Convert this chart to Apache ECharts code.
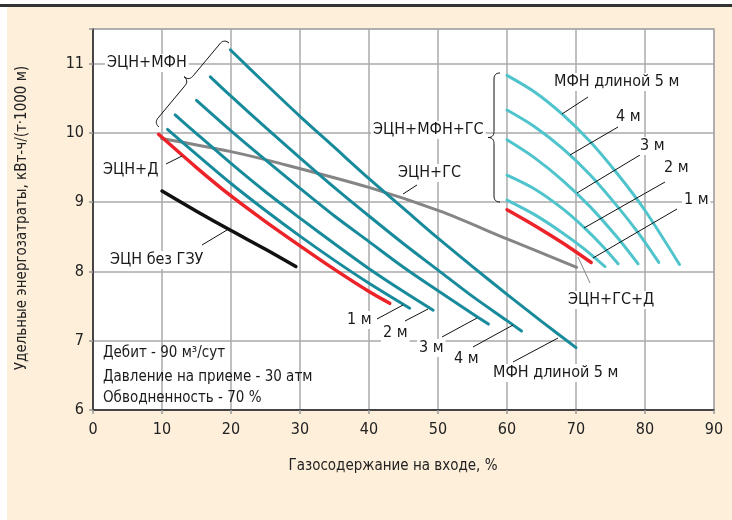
<!DOCTYPE html>
<html><head><meta charset="utf-8">
<script src="https://cdn.jsdelivr.net/npm/echarts@6/dist/echarts.min.js"></script>
<style>html,body{margin:0;padding:0;background:#fff}#c{width:732px;height:520px}</style>
</head><body><div id="c"></div>
<script>
// ---- data ----
const xTicks = [0,10,20,30,40,50,60,70,80,90];
const yTicks = [6,7,8,9,10,11];
// ЭЦН без ГЗУ
const esnNoGzu = [[10,9.16],[15,8.87],[20,8.59],[25,8.32],[29.4,8.07]];
// ЭЦН+Д
const esnD = [[9.5,9.98],[15,9.50],[20,9.09],[25,8.72],[30,8.37],[35,8.03],[40,7.71],[43,7.54]];
// ЭЦН+МФН, 1..5 м
const mfn1 = [[10.8,10.05],[15,9.69],[20,9.27],[25,8.88],[30,8.51],[35,8.16],[40,7.83],[45.9,7.47]];
const mfn2 = [[11.9,10.26],[15,9.99],[20,9.56],[25,9.15],[30,8.77],[35,8.40],[40,8.04],[45,7.71],[49.3,7.44]];
const mfn3 = [[15.0,10.47],[20,10.03],[25,9.61],[30,9.20],[35,8.80],[40,8.43],[45,8.06],[50,7.72],[55,7.39],[57.3,7.24]];
const mfn4 = [[17.0,10.81],[20,10.53],[25,10.08],[30,9.64],[35,9.21],[40,8.80],[45,8.40],[50,8.02],[55,7.64],[60,7.29],[62.1,7.14]];
const mfn5 = [[19.9,11.20],[25,10.71],[30,10.24],[35,9.79],[40,9.34],[45,8.91],[50,8.48],[55,8.07],[60,7.67],[65,7.28],[70,6.90]];
// ЭЦН+ГС
const esnGs = [[9.95,9.92],[20,9.73],[27.1,9.56],[40.1,9.21],[50.3,8.87],[60,8.47],[70.1,8.06]];
// ЭЦН+ГС+Д
const esnGsD = [[60,8.89],[63,8.72],[66,8.54],[69,8.35],[72.2,8.13]];
// ЭЦН+МФН+ГС, 1..5 м
const gs1 = [[60,9.03],[64,8.82],[68,8.56],[71,8.34],[74.2,8.07]];
const gs2 = [[60,9.39],[64,9.19],[68,8.91],[71,8.65],[74,8.35],[76.1,8.11]];
const gs3 = [[60,9.90],[64,9.64],[68,9.32],[72,8.94],[76,8.49],[79,8.11]];
const gs4 = [[60,10.33],[64,10.09],[68,9.78],[72,9.40],[76,8.94],[79,8.56],[82,8.13]];
const gs5 = [[60,10.83],[64,10.59],[68,10.27],[72,9.88],[76,9.41],[80,8.88],[85,8.10]];

// ---- style ----
const FONT = "'Liberation Sans Narrow','Arial Narrow','DejaVu Sans Condensed',sans-serif";
const TEAL = '#178b9b', LTEAL = '#4fc4cc', RED = '#ec2429', GRAY = '#858585', BLACK = '#111';

function line(name, data, color, w) {
  return {name, type:'line', data, showSymbol:false, smooth:0.3,
    lineStyle:{color, width:w||3, cap:'round'}, z:3, silent:true, animation:false};
}

// curly brace as a sampled polyline (annotation only)
function brace(ax, ay, bx, by, w, sgn) {
  const dx = bx-ax, dy = by-ay, L = Math.hypot(dx,dy);
  const ux = dx/L, uy = dy/L;
  const nx = -uy*sgn, ny = ux*sgn;
  const mx = (ax+bx)/2, my = (ay+by)/2;
  const pts = [];
  function quad(p0, c, p1) {
    for (let i = 0; i <= 10; i++) {
      const t = i/10, a = (1-t)*(1-t), b = 2*t*(1-t), d = t*t;
      pts.push([a*p0[0]+b*c[0]+d*p1[0], a*p0[1]+b*c[1]+d*p1[1]]);
    }
  }
  quad([ax,ay],[ax+nx*w,ay+ny*w],[ax+nx*w+ux*w,ay+ny*w+uy*w]);
  quad([mx-ux*w+nx*w,my-uy*w+ny*w],[mx+nx*w,my+ny*w],[mx+nx*2*w,my+ny*2*w]);
  quad([mx+nx*2*w,my+ny*2*w],[mx+nx*w,my+ny*w],[mx+ux*w+nx*w,my+uy*w+ny*w]);
  quad([bx-ux*w+nx*w,by-uy*w+ny*w],[bx+nx*w,by+ny*w],[bx,by]);
  return pts;
}

const labels = [
  ['ЭЦН+МФН',105,63,true],
  ['ЭЦН+Д',103,170,false],
  ['ЭЦН без ГЗУ',108,260,true],
  ['1 м',345,320,true],
  ['2 м',381,333,true],
  ['3 м',417,348,true],
  ['4 м',452,359,true],
  ['МФН длиной 5 м',491,373,true],
  ['ЭЦН+ГС+Д',566,300,true],
  ['МФН длиной 5 м',552,82,true],
  ['4 м',614,117,true],
  ['3 м',638,146,true],
  ['2 м',662,168,true],
  ['1 м',682,200,true],
  ['ЭЦН+МФН+ГС',371,130,true],
  ['ЭЦН+ГС',396,173,true]
];
const info = [
  ['Дебит - 90 м³/сут',103,353],
  ['Давление на приеме - 30 атм',103,377],
  ['Обводненность - 70 %',103,398]
];
const leaders = [
  [166,164,182,156,BLACK],
  [202,245,227,230,BLACK],
  [377,319,403,305,BLACK],
  [405,321,428,309,BLACK],
  [442,337,477,318,BLACK],
  [473,347,513,325,BLACK],
  [513,362,558,338,BLACK],
  [590,283,578,257,GRAY],
  [588,97,562,114,BLACK],
  [618,127,570,155,BLACK],
  [640,155,577,193,BLACK],
  [665,182,584,228,BLACK],
  [677,209,593,258,BLACK],
  [417,185,403,194,BLACK]
];

const graphic = [
  {type:'rect', shape:{x:7,y:7,width:725,height:513}, style:{fill:'#fdefda'}, z:-10, silent:true},
  {type:'rect', shape:{x:0,y:4,width:732,height:3}, style:{fill:'#333'}, z:-10, silent:true},
  {type:'text', x:393, y:466, style:{text:'Газосодержание на входе, %', font:'15px '+FONT, fill:'#222', align:'center', verticalAlign:'middle'}, z:10},
  {type:'text', x:22, y:218, rotation:Math.PI/2, style:{text:'Удельные энергозатраты, кВт-ч/(т·1000 м)', font:'15px '+FONT, fill:'#222', align:'center', verticalAlign:'middle'}, z:10},
  {type:'polyline', shape:{points:brace(159,127,229,43,6.5,-1)}, style:{stroke:'#111',lineWidth:1,fill:null}, z:20},
  {type:'polyline', shape:{points:brace(500,73,500,202,6,1)}, style:{stroke:'#111',lineWidth:1,fill:null}, z:20}
];
leaders.forEach(l=>graphic.push({type:'line', shape:{x1:l[0],y1:l[1],x2:l[2],y2:l[3]}, style:{stroke:l[4],lineWidth:1}, z:20}));
labels.forEach(l=>graphic.push({type:'text', x:l[1], y:l[2], z:30,
  style:{text:l[0], font:'16px '+FONT, fill:'#1a1a1a', align:'left', verticalAlign:'middle',
    backgroundColor:l[3]?'#fff':'transparent', padding:l[3]?[1,2]:0}}));
info.forEach(l=>graphic.push({type:'text', x:l[1], y:l[2], z:30,
  style:{text:l[0], font:'15px '+FONT, fill:'#1a1a1a', align:'left', verticalAlign:'middle'}}));

const chart = echarts.init(document.getElementById('c'), null, {renderer:'canvas'});
chart.setOption({
  animation:false,
  backgroundColor:'#fff',
  textStyle:{fontFamily:FONT},
  grid:{left:93, top:29, right:18, bottom:110, show:true, backgroundColor:'#fff', borderColor:'#aaa', borderWidth:1.5, z:0},
  xAxis:{type:'value', min:xTicks[0], max:xTicks[xTicks.length-1], interval:10,
    axisLine:{lineStyle:{color:'#222', width:1.5}},
    axisTick:{show:true, length:4, lineStyle:{color:'#999', width:1.5}},
    axisLabel:{fontSize:16, color:'#222', margin:12, fontFamily:FONT},
    splitLine:{show:true, lineStyle:{color:'#aaa', width:1.5}}},
  yAxis:{type:'value', min:yTicks[0], max:11.5, interval:1,
    axisLine:{show:true, lineStyle:{color:'#222', width:1.5}},
    axisTick:{show:true, length:4, lineStyle:{color:'#999', width:1.5}},
    axisLabel:{fontSize:16, color:'#222', margin:9, fontFamily:FONT,
      formatter:v=>yTicks.indexOf(v)>=0?String(v):''},
    splitLine:{show:true, lineStyle:{color:'#aaa', width:1.5}}},
  series:[
    line('ЭЦН без ГЗУ', esnNoGzu, BLACK, 3.5),
    line('ЭЦН+ГС', esnGs, GRAY, 3),
    line('МФН 1 м', mfn1, TEAL),
    line('МФН 2 м', mfn2, TEAL),
    line('МФН 3 м', mfn3, TEAL),
    line('МФН 4 м', mfn4, TEAL),
    line('МФН 5 м', mfn5, TEAL),
    line('ЭЦН+Д', esnD, RED, 3.5),
    line('ГС 1 м', gs1, LTEAL),
    line('ГС 2 м', gs2, LTEAL),
    line('ГС 3 м', gs3, LTEAL),
    line('ГС 4 м', gs4, LTEAL),
    line('ГС 5 м', gs5, LTEAL),
    line('ЭЦН+ГС+Д', esnGsD, RED, 3.5)
  ],
  graphic
});
</script></body></html>
